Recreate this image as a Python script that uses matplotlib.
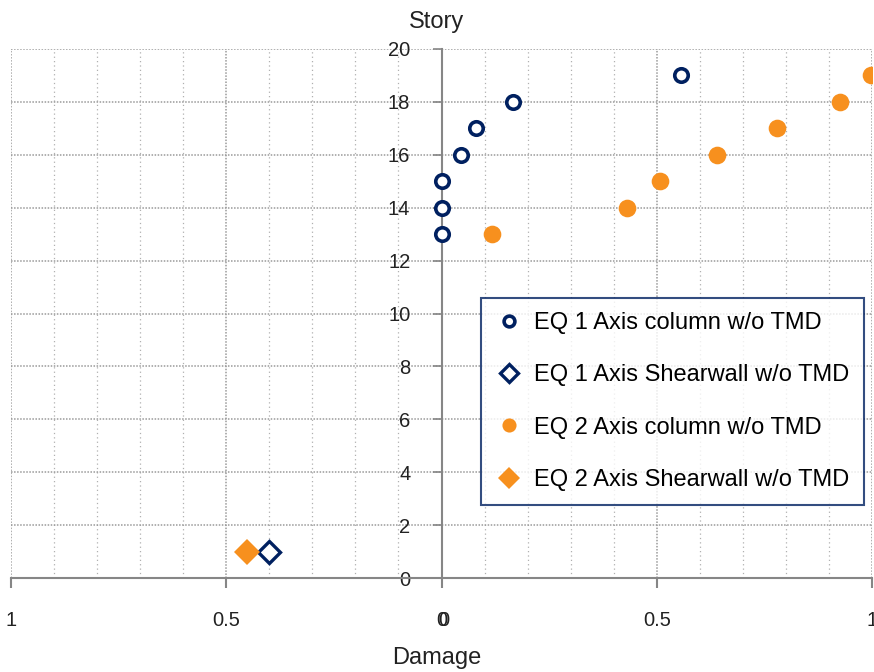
import matplotlib
matplotlib.use("Agg")
import matplotlib.pyplot as plt
from matplotlib.ticker import MultipleLocator, FixedLocator
import matplotlib.transforms as mtransforms

plt.rcParams['font.family'] = ['Liberation Sans', 'DejaVu Sans']

# Story levels and damage indices
eq1_column_story = [13, 14, 15, 16, 17, 18, 19]
eq1_column_damage = [0.0, 0.0, 0.0, 0.046, 0.079, 0.167, 0.557]

eq2_column_story = [13, 14, 15, 16, 17, 18, 19]
eq2_column_damage = [0.118, 0.432, 0.508, 0.640, 0.780, 0.926, 0.998]

# shear wall results are drawn on the mirrored (left) half
eq1_wall_story = [1]
eq1_wall_damage = [0.40]
eq2_wall_story = [1]
eq2_wall_damage = [0.452]

x_ticks = [-1, -0.5, 0, 0.5, 1]
x_tick_labels = ["1", "0.5", "0", "0.5", "1"]

navy = "#002060"
orange = "#F7901E"
grid_col = "#9a9a9a"
spine_col = "#868686"
text_col = "#222222"

fig = plt.figure(figsize=(8.74, 6.72), dpi=100)
W, H = 874, 672
x0, x1, y0, y1 = 11, 872, 49, 578
ax = fig.add_axes([x0 / W, 1 - y1 / H, (x1 - x0) / W, (y1 - y0) / H])
ax.set_xlim(-1, 1)
ax.set_ylim(0, 20)

# grid
ax.xaxis.set_major_locator(FixedLocator(x_ticks))
ax.xaxis.set_minor_locator(MultipleLocator(0.1))
ax.yaxis.set_major_locator(MultipleLocator(2))
ax.grid(which='major', axis='both', color=grid_col, linestyle=(0, (1, 1)), linewidth=1.1)
ax.grid(which='minor', axis='x', color="#b0b0b0", linestyle=(0, (1, 2.5)), linewidth=0.9)
ax.set_axisbelow(True)

for s in ['top', 'right']:
    ax.spines[s].set_visible(False)
ax.spines['left'].set_position(('data', 0))
ax.spines['left'].set_color(spine_col)
ax.spines['left'].set_linewidth(1.5)
ax.spines['bottom'].set_color(spine_col)
ax.spines['bottom'].set_linewidth(1.5)

tick_len, tick_pad = 7, 17
ax.set_xticklabels(x_tick_labels)
ax.tick_params(axis='x', which='major', length=tick_len, width=1.5, color=spine_col,
               pad=tick_pad, labelsize=14.5, labelcolor=text_col)
ax.tick_params(axis='x', which='minor', length=0)
ax.tick_params(axis='y', which='major', length=6.5, width=1.2, color=spine_col,
               pad=16, labelsize=14.5, labelcolor=text_col)

# zero label of the mirrored half, drawn just beside the main one
zero_trans = (ax.get_xaxis_text1_transform(tick_len + tick_pad)[0]
              + mtransforms.ScaledTranslation(1.6 / 72, 0, fig.dpi_scale_trans))
ax.text(0, 0, "0", transform=zero_trans, fontsize=14.5, color=text_col,
        ha='center', va='top')

ax.plot(eq1_column_damage, eq1_column_story, linestyle='none', marker='o', ms=9.7,
        mfc='white', mec=navy, mew=2.6, label="EQ 1 Axis column w/o TMD", zorder=3)
ax.plot([-v for v in eq1_wall_damage], eq1_wall_story, linestyle='none', marker='D', ms=11.0,
        mfc='white', mec=navy, mew=2.4, label="EQ 1 Axis Shearwall w/o TMD", zorder=3)
ax.plot(eq2_column_damage, eq2_column_story, linestyle='none', marker='o', ms=12.7,
        mfc=orange, mec=orange, mew=0, label="EQ 2 Axis column w/o TMD", zorder=3)
ax.plot([-v for v in eq2_wall_damage], eq2_wall_story, linestyle='none', marker='D', ms=13.6,
        mfc=orange, mec=orange, mew=0, label="EQ 2 Axis Shearwall w/o TMD", zorder=3)

leg = ax.legend(loc='upper left', bbox_to_anchor=(481 / W, 1 - 298 / H),
                bbox_transform=fig.transFigure, borderaxespad=0, frameon=True,
                fancybox=False, fontsize=17, markerscale=0.8, handlelength=1.2,
                handletextpad=0.45, labelspacing=1.28, borderpad=0.6)
leg.get_frame().set_edgecolor(navy)
leg.get_frame().set_linewidth(1.5)

fig.text(437 / W, 1 - 22 / H, "Story", fontsize=17, ha='center', va='center', color=text_col)
fig.text(437 / W, 1 - 658 / H, "Damage", fontsize=17, ha='center', va='center', color=text_col)

fig.savefig("out.png", dpi=100)
